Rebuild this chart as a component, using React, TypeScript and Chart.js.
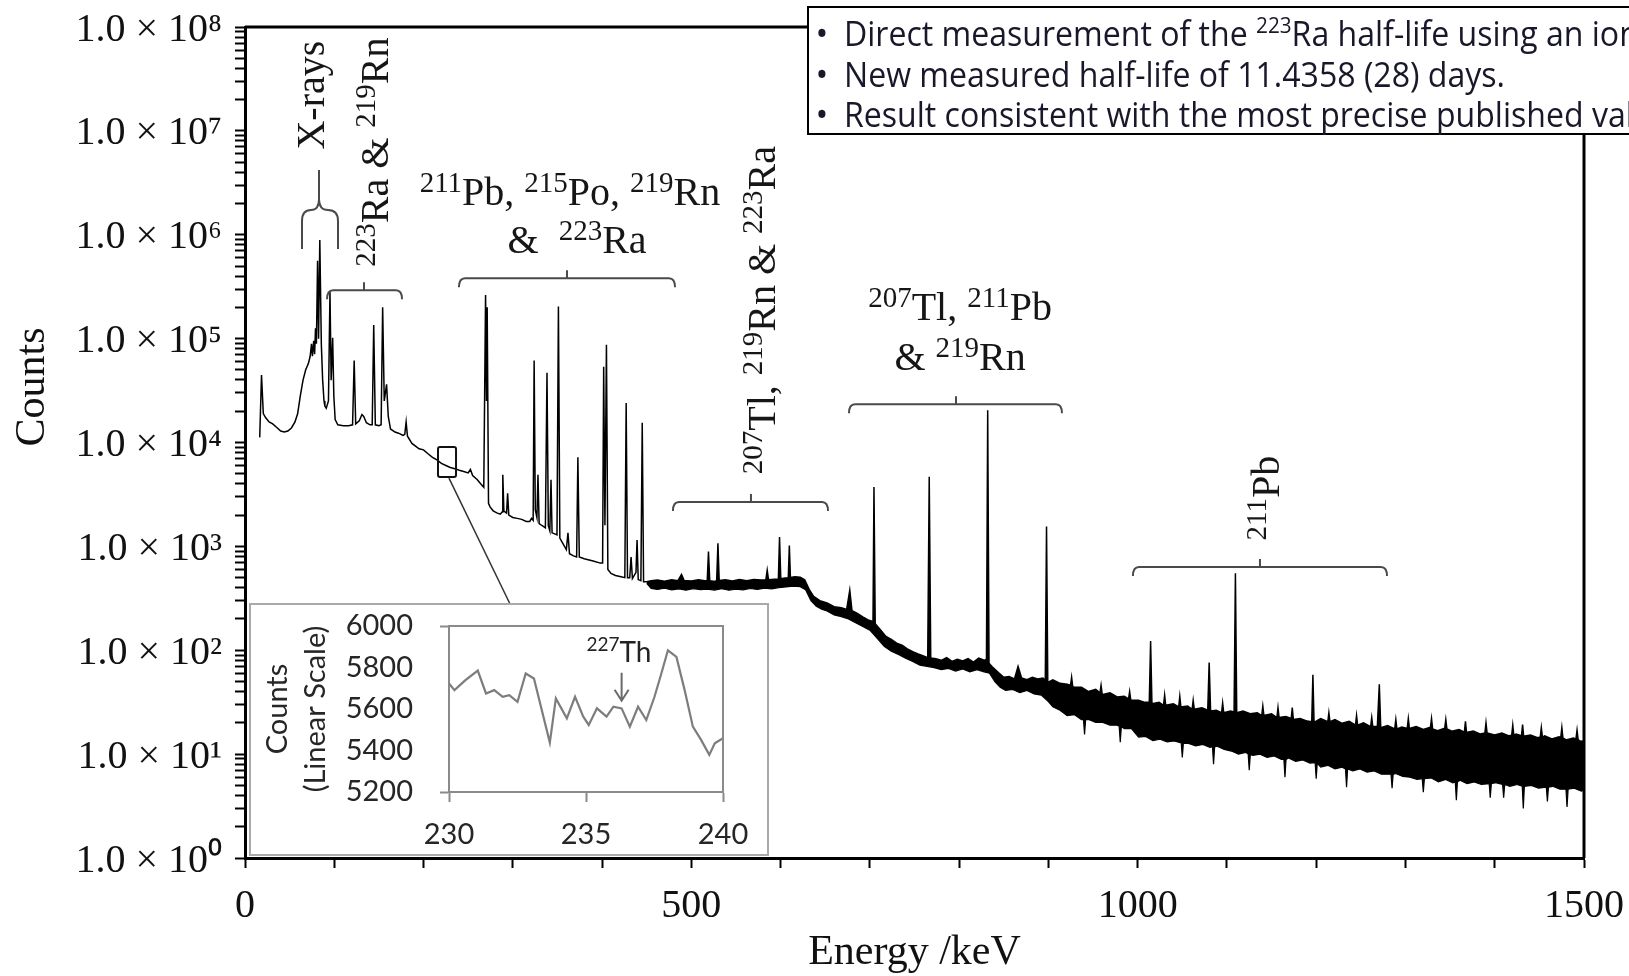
import React, { useEffect, useRef } from 'react';
import { Chart, registerables } from 'chart.js';
Chart.register(...registerables);

const SERIF = "'Liberation Serif', 'Times New Roman', serif";
const INSET_FONT = "Lato, 'Open Sans', sans-serif";
const HL_FONT = "'Open Sans', 'Noto Sans', sans-serif";

// ---------- main spectrum: upper trace [energy keV, counts] incl. peaks ----------
const spectrumTrace: [number, number][] = [
  [16.5, 11200], [18.5, 44700], [20.5, 19000], [23, 17400], [27, 15800], [31, 15100], [35, 14100], [40, 12900],
  [44, 12600], [48, 12900], [52, 13800], [56, 15800], [59, 19000], [62, 28200], [65, 39800], [68, 50100],
  [71, 57500], [73, 67600], [74.5, 89100], [75.5, 67600], [77, 95500], [78, 70800], [79, 126000], [80, 89100],
  [81.3, 562000], [82.4, 100000], [83.8, 891000], [85.5, 89100], [87, 39800], [88.5, 25100], [89.5, 22400],
  [91, 21400], [93.5, 25100], [95.2, 282000], [96.5, 39800], [98.2, 102000], [99.5, 28200], [101, 16600],
  [104, 14800], [110, 14500], [116, 14500], [120.5, 14800], [122.3, 61700], [124, 15100], [128, 16200],
  [131, 18600], [133, 17800], [136, 15500], [140, 14800], [142.5, 14800], [144.2, 135000], [146, 14800],
  [150, 14500], [152.5, 14800], [154.2, 200000], [156, 25100], [158.6, 36300], [160.5, 17800], [163, 13500],
  [168, 12600], [172, 12300], [177, 11700], [179, 12000], [180.5, 15800], [182, 11500], [187, 9800],
  [195, 8700], [200, 8500], [205, 7800], [210, 7200], [215, 6800], [220, 6300], [225, 6000], [230, 5750],
  [235, 5600], [240, 5400], [245, 5250], [250, 5100], [252.5, 5500], [255, 4800], [260, 4400], [264, 4000],
  [267.5, 3700], [269.5, 263000], [270.5, 25100], [271.3, 200000], [272.8, 2600], [274.5, 2400], [278, 2200],
  [282, 2100], [286, 2040], [288, 2140], [288.8, 4900], [290, 2190], [293, 2090], [294.2, 3240], [295.5, 2000],
  [300, 1900], [305, 1860], [310, 1820], [315, 1740], [319, 1740], [321, 1860], [322.8, 1780], [323.9, 61700],
  [325.2, 2240], [327, 1900], [328.2, 4900], [329.5, 1660], [333, 1580], [336.5, 1510], [338.3, 46800],
  [339.8, 1580], [341.5, 1410], [342.8, 4370], [344, 1350], [347, 1320], [349.5, 1290], [351.1, 204000],
  [352.7, 1200], [356, 1070], [360, 930], [361.8, 1350], [363.5, 850], [368, 810], [371.5, 790], [372.9, 7200],
  [374.5, 790], [380, 760], [390, 724], [398, 690], [400.6, 690], [401.8, 53700], [403.2, 1600], [404.9, 87100],
  [406.5, 600], [410, 550], [415, 525], [420, 513], [425.5, 500], [427, 24000], [428.5, 500], [431, 500],
  [432.5, 790], [434, 490], [438, 562], [439.2, 1150], [440.5, 479], [443.5, 468], [445, 15500], [446.5, 457],
  [450, 457],
  [455, 466], [462, 474], [470, 461], [478, 478], [485, 468], [489, 537], [492, 470], [500, 463], [508, 476],
  [515, 466], [517.8, 470], [519.2, 891], [520.6, 468], [527, 460], [528.4, 472], [529.8, 1070], [531.2, 470],
  [538, 478], [546, 464], [554, 481], [562, 468], [570, 480], [578, 474], [583.5, 478], [585, 590], [586.5, 476],
  [593, 483], [597.5, 486], [598.8, 1230], [600.2, 488], [605, 495], [608.6, 498], [609.8, 1020], [611, 502],
  [616, 509], [622, 505], [627, 478], [632, 385], [637, 330], [644, 300], [652, 285], [660, 263], [668, 257],
  [674, 247], [677.5, 380], [680, 240], [686, 226], [692, 210], [698, 196], [703.5, 189], [704.6, 3720],
  [706, 180], [712, 157], [718, 136], [724, 127], [730, 117], [736, 112], [742, 103], [748, 97], [754, 92],
  [760, 88], [764.8, 85], [766.5, 4680], [768.2, 84], [774, 83], [780, 80], [786, 85], [792, 78], [798, 82],
  [804, 79], [810, 83], [816, 77], [822, 84], [828, 80], [830.6, 82], [832, 20400], [833.5, 75], [838, 68],
  [844, 61], [850, 55], [856, 56], [862, 53], [866, 70], [870, 54], [876, 52], [882, 55], [888, 53], [894, 54],
  [896.5, 51], [897.9, 1550], [899.3, 49],
  [905, 52], [913, 48], [921, 47], [924.8, 46], [926, 55], [927.2, 45], [929, 44], [937, 44], [945, 40],
  [953, 42], [957.8, 39], [959, 46], [960.2, 38], [961, 37.5], [969, 39], [977, 35.5], [985, 36], [989.8, 34],
  [991, 40], [992.2, 33.5], [993, 33],
  [1001, 33], [1008, 31.5], [1013, 31.5], [1014.5, 123], [1016, 30.5], [1024, 31.5], [1029, 29.5],
  [1030.2, 37], [1031.4, 29.5], [1040, 30.5], [1046, 28.5], [1047.2, 36], [1048.4, 28.5], [1056, 29],
  [1061, 27], [1062.2, 33], [1063.4, 27], [1072, 28], [1078.5, 26.5], [1080.1, 76], [1081.7, 26], [1088, 26.5],
  [1094, 25], [1095.2, 31], [1096.4, 25], [1104, 26], [1108, 25.5], [1109.5, 550], [1111, 25], [1118, 26],
  [1126, 24.5], [1134, 25], [1139, 23.5], [1140.2, 29], [1141.4, 23.5], [1150, 24.5], [1156, 22.5],
  [1157.2, 28], [1158.4, 22.5], [1166, 23], [1172, 22], [1173.2, 28], [1174.4, 21.5], [1182, 22], [1190, 20.8],
  [1195, 20.5], [1196.3, 58], [1197.6, 20.2], [1205, 22], [1213, 20.5], [1214.2, 25], [1215.4, 20.5],
  [1221, 21.5], [1229, 19.8], [1237, 20.7], [1244, 19], [1245.2, 23.5], [1246.4, 19], [1253, 20], [1261, 18.4],
  [1262.2, 22.5], [1263.4, 18.4], [1268.5, 18.4], [1270.7, 47], [1272.3, 18], [1280, 18.8], [1288, 17.5],
  [1289.2, 21.5], [1290.4, 17.5], [1296, 18.2], [1302, 17.7], [1303.2, 22], [1304.4, 17.7], [1312, 18.4],
  [1320, 17.3], [1328, 18.2], [1329.2, 22], [1330.4, 17.5], [1336, 16.8], [1344, 17.8], [1345.2, 21.5],
  [1346.4, 17.5], [1352, 16.6], [1360, 17.2], [1366, 16.3], [1367.2, 20.7], [1368.4, 16.2], [1376, 16.7],
  [1384, 15.6], [1389, 16], [1390.2, 20], [1391.4, 16], [1400, 15.3], [1408, 16], [1416, 15], [1419, 15.2],
  [1420.2, 19], [1421.4, 15.2], [1424, 15.6], [1430, 15], [1431.2, 19.3], [1432.4, 14.9], [1440, 15.3],
  [1448, 14.4], [1451, 14.6], [1452.2, 18], [1453.4, 14.6], [1456, 15], [1464, 14], [1472, 14.7], [1474, 14.5],
  [1475.2, 18], [1476.4, 14.3], [1480, 13.7], [1488, 14.3], [1491, 14], [1492.2, 17], [1493.4, 13.8],
  [1496, 13.3], [1500, 13.4],
];

// ---------- lower edge of the noisy band [energy keV, counts] ----------
const noiseFloor: [number, number][] = [
  [450, 440], [455, 394], [462, 385], [470, 395], [478, 382], [486, 390], [494, 379], [502, 392], [510, 384],
  [518, 388], [526, 380], [534, 391], [542, 378], [550, 388], [558, 382], [566, 393], [574, 385], [582, 397],
  [590, 390], [598, 401], [606, 407], [614, 415], [622, 409], [628, 382], [634, 300], [640, 265], [646, 248],
  [652, 239], [660, 219], [668, 211], [676, 200], [684, 184], [692, 169], [700, 156], [708, 131], [716, 109],
  [724, 98], [732, 91], [740, 84], [748, 78], [756, 72], [764, 70], [772, 68], [780, 65], [788, 67], [796, 63],
  [804, 66], [812, 62], [820, 65], [828, 62], [834, 60], [840, 50], [846, 44], [852, 41], [860, 42], [868, 39],
  [876, 41], [884, 38], [892, 37], [900, 32],
  [905, 28.5], [913, 26.5], [921, 23.5], [929, 24], [937, 21.5], [939.3, 21.5], [940.5, 15.5], [941.7, 21.5],
  [945, 21.6], [953, 20.2], [961, 20.2], [969, 19], [977, 19], [979.3, 18.6], [980.5, 13], [981.7, 18.4],
  [985, 17.6], [993, 17.6], [1001, 14.6], [1009, 14.8], [1017, 13.5], [1025, 13.9], [1033, 13.1], [1041, 13.4],
  [1048.8, 12.8], [1050, 9.3], [1051.2, 12.7], [1057, 12.7], [1065, 12], [1073, 12.4], [1081, 11.6],
  [1083.8, 11.8], [1085, 8], [1086.2, 11.7], [1089, 11.9], [1097, 11.1], [1105, 10.7], [1113, 10],
  [1121, 10.4], [1123.8, 10], [1125, 7], [1126.2, 9.9], [1129, 9.7], [1137, 10], [1145, 9.3], [1153, 9.6],
  [1161, 8.9], [1163.8, 8.9], [1165, 6], [1166.2, 8.9], [1169, 9.2], [1177, 8.5], [1185, 8.8], [1193, 8.2],
  [1198.8, 8.3], [1200, 5.8], [1201.2, 8.2], [1205, 7.5], [1213, 7.8], [1221, 7.2], [1229, 7.5], [1232.8, 7.2],
  [1234, 4.8], [1235.2, 7.2], [1241, 6.9], [1249, 7.2], [1257, 6.7], [1265, 6.9], [1273, 6.4], [1283.8, 6.4],
  [1285, 4.7], [1286.2, 6.4], [1289, 6.5], [1297, 6.1], [1305, 6], [1313, 5.7], [1318.8, 5.8], [1320, 4.3],
  [1321.2, 5.8], [1329, 5.9], [1337, 5.4], [1345, 5.7], [1353, 5.3], [1355.8, 5.4], [1357, 3.6], [1358.2, 5.4],
  [1361, 5.6], [1369, 5.2], [1377, 5.4], [1385, 5.1], [1393.8, 5.2], [1395, 3.8], [1396.2, 5.2], [1401, 5.3],
  [1408.8, 5.1], [1410, 3.8], [1411.2, 5.1], [1417, 4.9], [1425, 5.1], [1430.8, 4.9], [1432, 3.0],
  [1433.2, 4.9], [1441, 5.0], [1449, 4.7], [1457.8, 4.8], [1459, 3.5], [1460.2, 4.8], [1465, 4.9], [1473, 4.6],
  [1479.8, 4.6], [1481, 3.1], [1482.2, 4.6], [1489, 4.7], [1497, 4.4], [1500, 4.5],
];

// ---------- inset (linear scale, 230-240 keV) ----------
const insetEnergy = [
  230.0, 230.2, 230.6, 231.05, 231.35, 231.65, 231.96, 232.2, 232.5, 232.8, 233.1, 233.68, 233.9, 234.3,
  234.6, 234.9, 235.1, 235.4, 235.75, 236.0, 236.3, 236.6, 236.9, 237.2, 237.5, 237.75, 237.99, 238.3, 238.6,
  238.9, 239.2, 239.5, 239.7, 240.0,
];
const insetCounts = [
  5723, 5691, 5739, 5785, 5675, 5691, 5659, 5667, 5635, 5771, 5747, 5438, 5651, 5555, 5659, 5563, 5523, 5603,
  5563, 5611, 5603, 5515, 5611, 5547, 5659, 5771, 5883, 5851, 5691, 5515, 5451, 5379, 5435, 5459,
];

const xTickLabels: Record<number, string> = { 0: '0', 500: '500', 1000: '1000', 1500: '1500' };
const yTickLabels = [
  '1.0 × 10⁰', '1.0 × 10¹', '1.0 × 10²', '1.0 × 10³', '1.0 × 10⁴',
  '1.0 × 10⁵', '1.0 × 10⁶', '1.0 × 10⁷', '1.0 × 10⁸',
];

const highlightLines: [string, boolean][][] = [
  [['Direct measurement of the ', false], ['223', true], ['Ra half-life using an ionisation chamber.', false]],
  [['New measured half-life of 11.4358 (28) days.', false]],
  [['Result consistent with the most precise published values.', false]],
];

type Part = [string, boolean];
interface RichOpts {
  size: number; supSize: number; rise: number; family: string; color: string;
  align: 'center' | 'left'; rotate?: boolean;
}
function drawRich(ctx: CanvasRenderingContext2D, parts: Part[], x: number, y: number, o: RichOpts) {
  ctx.save();
  ctx.translate(x, y);
  if (o.rotate) ctx.rotate(-Math.PI / 2);
  ctx.fillStyle = o.color;
  ctx.textBaseline = 'alphabetic';
  ctx.textAlign = 'left';
  const f = (s: number) => `${s}px ${o.family}`;
  let total = 0;
  const widths = parts.map(([t, sup]) => {
    ctx.font = f(sup ? o.supSize : o.size);
    const w = ctx.measureText(t).width;
    total += w;
    return w;
  });
  let cx = o.align === 'center' ? -total / 2 : 0;
  parts.forEach(([t, sup], i) => {
    ctx.font = f(sup ? o.supSize : o.size);
    ctx.fillText(t, cx, sup ? -o.rise : 0);
    cx += widths[i];
  });
  ctx.restore();
}

const LBL: RichOpts = { size: 40, supSize: 29, rise: 13, family: SERIF, color: '#161616', align: 'center' };

function bracket(ctx: CanvasRenderingContext2D, x1: number, x2: number, y: number, tx: number) {
  ctx.beginPath();
  ctx.moveTo(x1, y + 9);
  ctx.quadraticCurveTo(x1, y, x1 + 6, y);
  ctx.lineTo(x2 - 6, y);
  ctx.quadraticCurveTo(x2, y, x2, y + 9);
  ctx.moveTo(tx, y);
  ctx.lineTo(tx, y - 8);
  ctx.stroke();
}

const mainDecor = {
  id: 'mainDecor',
  afterDraw(chart: any) {
    const { ctx, chartArea: a, scales } = chart;
    const px = (e: number) => scales.x.getPixelForValue(e);
    const py = (c: number) => scales.y.getPixelForValue(c);
    ctx.save();
    ctx.strokeStyle = '#000';
    ctx.lineWidth = 3;
    ctx.beginPath();
    ctx.moveTo(a.left, a.top);
    ctx.lineTo(a.right, a.top);
    ctx.lineTo(a.right, a.bottom);
    ctx.stroke();

    ctx.strokeStyle = '#4a4a4a';
    ctx.lineWidth = 2;
    bracket(ctx, px(91.9), px(175.9), py(2.93e5), px(133.3));
    bracket(ctx, px(239.7), px(481.7), py(3.82e5), px(360.7));
    bracket(ctx, px(479.4), px(653.1), py(2670), px(566.8));
    bracket(ctx, px(676.6), px(915.2), py(2.34e4), px(796.5));
    bracket(ctx, px(994.7), px(1279.3), py(632), px(1137));

    const bx = px(82.9), by = py(4.19e6);
    ctx.beginPath();
    ctx.moveTo(bx, by);
    ctx.lineTo(bx, by + 31);
    ctx.moveTo(bx, by + 29);
    ctx.quadraticCurveTo(bx, by + 40, bx - 8, by + 40);
    ctx.quadraticCurveTo(bx - 17, by + 40, bx - 17, by + 51);
    ctx.lineTo(bx - 17, by + 79);
    ctx.moveTo(bx, by + 29);
    ctx.quadraticCurveTo(bx, by + 40, bx + 9, by + 40);
    ctx.quadraticCurveTo(bx + 19, by + 40, bx + 19, by + 51);
    ctx.lineTo(bx + 19, by + 79);
    ctx.stroke();

    ctx.strokeStyle = '#111';
    ctx.lineWidth = 2;
    const x1 = px(216.2), x2 = px(236.4), y1 = py(9040), y2 = py(4650);
    ctx.beginPath();
    ctx.roundRect(x1, y1, x2 - x1, y2 - y1, 2);
    ctx.stroke();
    ctx.strokeStyle = '#333';
    ctx.lineWidth = 1.5;
    ctx.beginPath();
    ctx.moveTo(px(228.5), py(4540));
    ctx.lineTo(px(296.9), py(278.6));
    ctx.stroke();

    drawRich(ctx, [['X-rays', false]], px(88.3), py(2.21e7), { ...LBL, rotate: true });
    drawRich(ctx, [['223', true], ['Ra & ', false], ['219', true], ['Rn', false]], px(160.2), py(6.24e6), { ...LBL, rotate: true });
    drawRich(ctx, [['211', true], ['Pb, ', false], ['215', true], ['Po, ', false], ['219', true], ['Rn', false]], px(364), py(1.93e6), LBL);
    drawRich(ctx, [['&  ', false], ['223', true], ['Ra', false]], px(372), py(6.65e5), LBL);
    drawRich(ctx, [['207', true], ['Tl, ', false], ['219', true], ['Rn & ', false], ['223', true], ['Ra', false]], px(593.7), py(1.88e5), { ...LBL, rotate: true });
    drawRich(ctx, [['207', true], ['Tl, ', false], ['211', true], ['Pb', false]], px(801), py(1.51e5), LBL);
    drawRich(ctx, [['& ', false], ['219', true], ['Rn', false]], px(801), py(4.97e4), LBL);
    drawRich(ctx, [['211', true], ['Pb', false]], px(1158.3), py(2917), { ...LBL, rotate: true });

    drawRich(ctx, [['Counts', false]], 44, 387, { ...LBL, size: 42, color: '#111', rotate: true });

    // highlights box overlay
    ctx.fillStyle = '#fff';
    ctx.fillRect(808, 7, 900, 127);
    ctx.strokeStyle = '#000';
    ctx.lineWidth = 2;
    ctx.strokeRect(808, 7, 900, 127);
    ctx.font = `34px ${HL_FONT}`;
    const sx = 661 / ctx.measureText(highlightLines[1][0][0]).width;
    const baselines = [46, 87, 127];
    highlightLines.forEach((parts, i) => {
      ctx.fillStyle = '#18182a';
      ctx.font = `34px ${HL_FONT}`;
      ctx.textAlign = 'center';
      ctx.textBaseline = 'alphabetic';
      ctx.fillText('•', 822, baselines[i]);
      ctx.save();
      ctx.translate(844, baselines[i]);
      ctx.scale(sx, 1);
      drawRich(ctx, parts, 0, 0, { size: 34, supSize: 22, rise: 13, family: HL_FONT, color: '#18182a', align: 'left' });
      ctx.restore();
    });
    ctx.restore();
  },
};

const insetDecor = {
  id: 'insetDecor',
  afterDraw(chart: any) {
    const { ctx, chartArea: a, scales } = chart;
    ctx.save();
    ctx.strokeStyle = '#8a8a8a';
    ctx.lineWidth = 2;
    ctx.beginPath();
    ctx.moveTo(a.left, a.top);
    ctx.lineTo(a.right, a.top);
    ctx.lineTo(a.right, a.bottom);
    ctx.stroke();
    ctx.strokeStyle = '#a9a9a9';
    ctx.lineWidth = 2;
    ctx.strokeRect(1, 1, chart.width - 2, chart.height - 2);
    const px = (e: number) => scales.x.getPixelForValue(e);
    const py = (c: number) => scales.y.getPixelForValue(c);
    drawRich(ctx, [['227', true], ['Th', false]], px(236.2), py(5827), {
      size: 28, supSize: 19, rise: 11, family: INSET_FONT, color: '#222', align: 'center',
    });
    const ax = px(236.3), top = py(5775), tip = py(5640);
    ctx.strokeStyle = '#6a6a6a';
    ctx.lineWidth = 2;
    ctx.beginPath();
    ctx.moveTo(ax, top);
    ctx.lineTo(ax, tip);
    ctx.moveTo(ax - 7, tip - 11);
    ctx.lineTo(ax, tip);
    ctx.lineTo(ax + 7, tip - 11);
    ctx.stroke();
    ctx.restore();
  },
};

export default function App() {
  const mainRef = useRef<HTMLCanvasElement>(null);
  const insetRef = useRef<HTMLCanvasElement>(null);

  useEffect(() => {
    const tickFont = { family: SERIF, size: 40 };
    const main = new Chart(mainRef.current!, {
      type: 'line',
      data: {
        datasets: [
          {
            label: 'Counts',
            data: spectrumTrace.map(([e, c]) => ({ x: e, y: c })),
            borderColor: '#000',
            borderWidth: 1.5,
            backgroundColor: '#000',
            pointRadius: 0,
            tension: 0,
            fill: '+1',
          },
          {
            label: 'Noise floor',
            data: noiseFloor.map(([e, c]) => ({ x: e, y: c })),
            borderColor: '#000',
            borderWidth: 1.2,
            pointRadius: 0,
            tension: 0,
            fill: false,
          },
        ],
      },
      options: {
        animation: false,
        responsive: false,
        devicePixelRatio: 1,
        layout: { padding: { top: 27, right: 45, left: 0, bottom: 0 } },
        plugins: { legend: { display: false }, tooltip: { enabled: false } },
        scales: {
          x: {
            type: 'linear',
            min: 0,
            max: 1500,
            ticks: {
              stepSize: 100,
              autoSkip: false,
              maxRotation: 0,
              font: tickFont,
              color: '#111',
              padding: 14,
              callback: (v: any) => xTickLabels[Number(v)] ?? '',
            },
            grid: { drawOnChartArea: false, drawTicks: true, tickLength: 10, tickWidth: 2, tickColor: '#000' },
            border: { color: '#000', width: 3 },
            title: {
              display: true,
              text: 'Energy /keV',
              color: '#111',
              font: { family: SERIF, size: 42, lineHeight: 1 },
              padding: { top: 0, bottom: 2 },
            },
            afterFit: (s: any) => { s.height = 118; s.paddingLeft = 0; s.paddingRight = 0; },
          },
          y: {
            type: 'logarithmic',
            min: 1,
            max: 1e8,
            afterBuildTicks: (s: any) => {
              const t: { value: number }[] = [];
              for (let e = 0; e <= 8; e++) {
                t.push({ value: Math.pow(10, e) });
                if (e < 8) for (let m = 2; m <= 9; m++) t.push({ value: m * Math.pow(10, e) });
              }
              s.ticks = t;
            },
            ticks: {
              autoSkip: false,
              font: tickFont,
              color: '#111',
              padding: 13,
              labelOffset: 3,
              callback: (v: any) => {
                const e = Math.log10(Number(v));
                const r = Math.round(e);
                return Math.abs(e - r) < 1e-9 ? yTickLabels[r] : '';
              },
            },
            grid: { drawOnChartArea: false, drawTicks: true, tickLength: 10, tickWidth: 2, tickColor: '#000' },
            border: { color: '#000', width: 3 },
            afterFit: (s: any) => { s.width = 245; s.paddingTop = 0; s.paddingBottom = 0; },
          },
        },
      },
      plugins: [mainDecor],
    } as any);

    const insetFont = { family: INSET_FONT, size: 29 };
    const inset = new Chart(insetRef.current!, {
      type: 'line',
      data: {
        datasets: [
          {
            label: 'Counts (linear)',
            data: insetEnergy.map((e, i) => ({ x: e, y: insetCounts[i] })),
            borderColor: '#7d7d7d',
            borderWidth: 2.2,
            pointRadius: 0,
            tension: 0,
            fill: false,
          },
        ],
      },
      options: {
        animation: false,
        responsive: false,
        devicePixelRatio: 1,
        layout: { padding: { top: 23, right: 46, left: 0, bottom: 0 } },
        plugins: { legend: { display: false }, tooltip: { enabled: false } },
        scales: {
          x: {
            type: 'linear',
            min: 230,
            max: 240,
            ticks: {
              stepSize: 5, autoSkip: false, maxRotation: 0, font: insetFont, color: '#262626', padding: 15,
              callback: (v: any) => String(v),
            },
            grid: { drawOnChartArea: false, drawTicks: true, tickLength: 10, tickWidth: 2, tickColor: '#8a8a8a' },
            border: { color: '#8a8a8a', width: 2 },
            afterFit: (s: any) => { s.height = 64; s.paddingLeft = 0; s.paddingRight = 0; },
          },
          y: {
            type: 'linear',
            min: 5200,
            max: 6000,
            ticks: {
              stepSize: 200, autoSkip: false, font: insetFont, color: '#262626', padding: 27,
              callback: (v: any) => String(v),
            },
            grid: {
              drawOnChartArea: false,
              drawTicks: true,
              tickLength: 9,
              tickWidth: 2,
              tickColor: (c: any) => (c.tick && (c.tick.value === 6000 || c.tick.value === 5200) ? '#8a8a8a' : 'rgba(0,0,0,0)'),
            },
            border: { color: '#8a8a8a', width: 2 },
            title: {
              display: true,
              text: ['Counts', '(Linear Scale)'],
              color: '#262626',
              font: { family: INSET_FONT, size: 29, lineHeight: 1.3 },
              padding: { top: 10, bottom: 0 },
            },
            afterFit: (s: any) => { s.width = 200; s.paddingTop = 0; s.paddingBottom = 0; },
          },
        },
      },
      plugins: [insetDecor],
    } as any);

    return () => {
      main.destroy();
      inset.destroy();
    };
  }, []);

  return (
    <div style={{ position: 'fixed', left: 0, top: 0, width: 1629, height: 976, background: '#fff' }}>
      <canvas ref={mainRef} width={1629} height={976} style={{ position: 'absolute', left: 0, top: 0 }} />
      <canvas ref={insetRef} width={520} height={253} style={{ position: 'absolute', left: 249, top: 603, background: '#fff' }} />
    </div>
  );
}
